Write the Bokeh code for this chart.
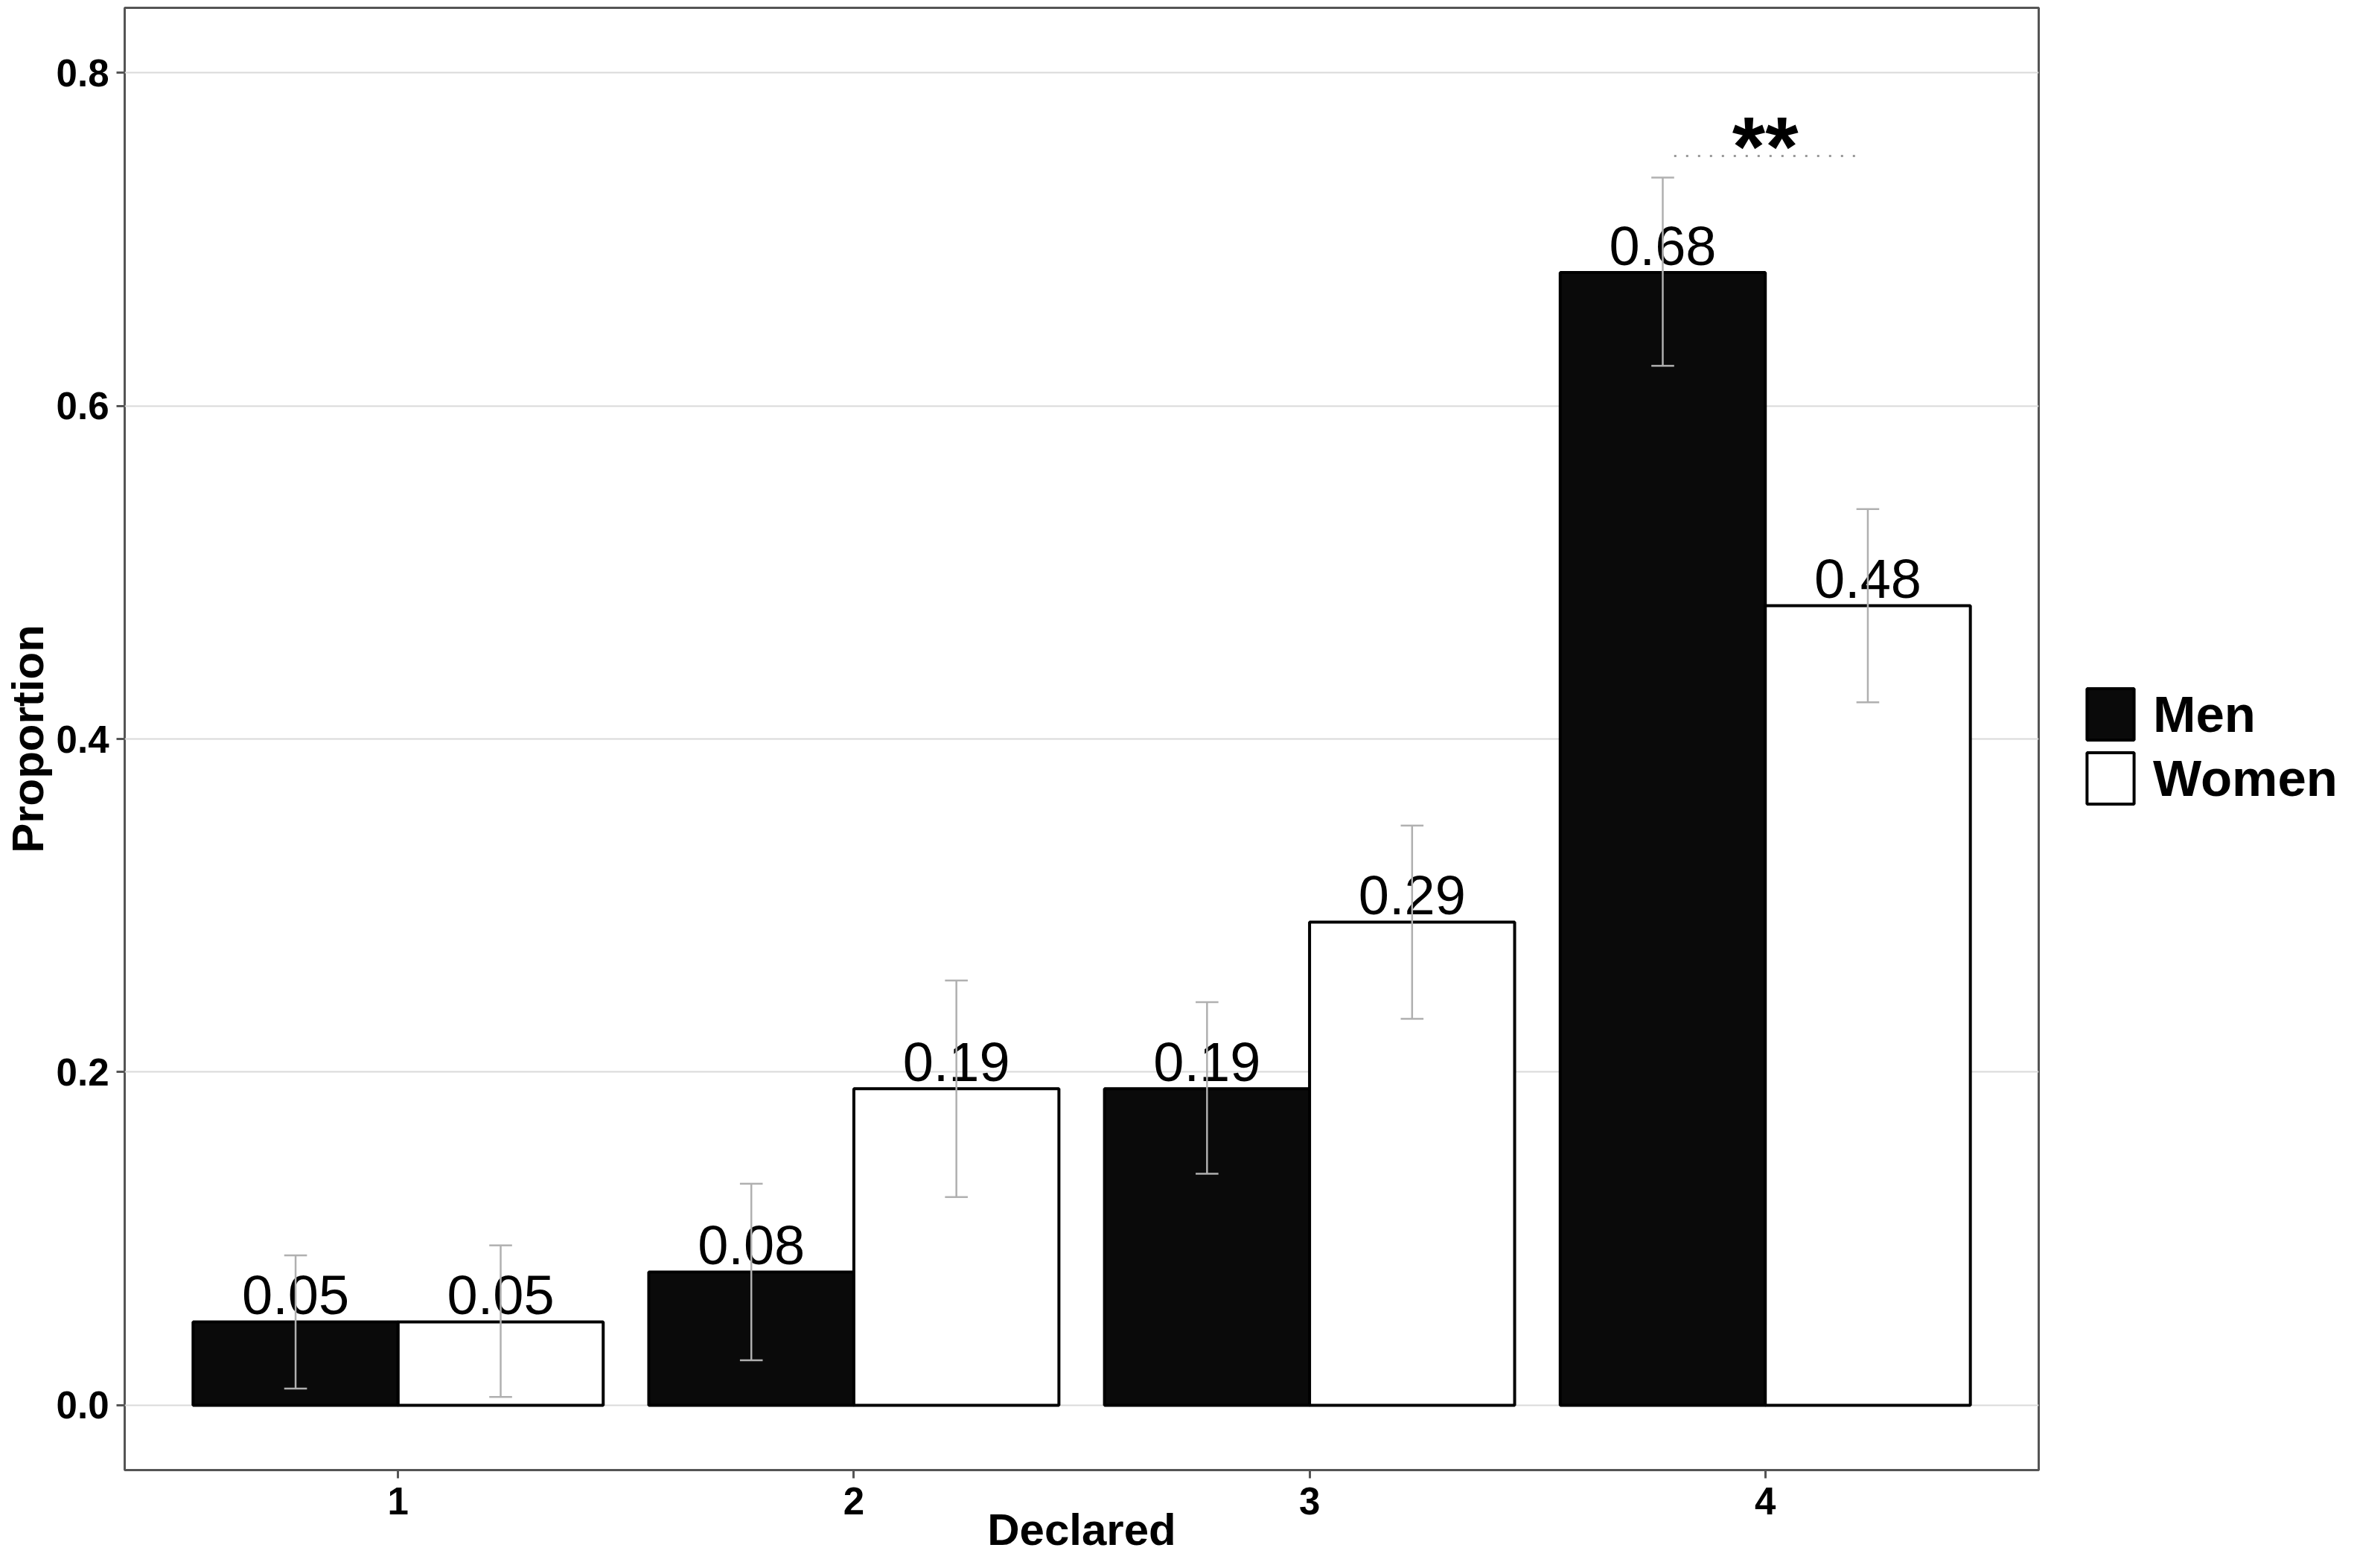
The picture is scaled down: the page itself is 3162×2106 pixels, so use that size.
from bokeh.plotting import figure
from bokeh.layouts import row
from bokeh.models import (FixedTicker, PrintfTickFormatter, Legend, LegendItem,
                          ColumnDataSource, Range1d)
from bokeh.core.properties import value
from bokeh.embed import file_html
from bokeh.resources import INLINE

# ---- data ----
categories = [1, 2, 3, 4]
men = [0.05, 0.08, 0.19, 0.68]
women = [0.05, 0.19, 0.29, 0.48]
men_lower = [0.010, 0.027, 0.139, 0.624]
men_upper = [0.090, 0.133, 0.242, 0.737]
women_lower = [0.005, 0.125, 0.232, 0.422]
women_upper = [0.096, 0.255, 0.348, 0.538]
y_ticks = [0.0, 0.2, 0.4, 0.6, 0.8]
sig_x0, sig_x1, sig_y = 3.8, 4.2, 0.75
sig_label = "**"
series_names = ["Men", "Women"]
x_title = "Declared"
y_title = "Proportion"

FONT = "Liberation Sans"
bar_w = 0.45
cap_w = 0.05
MEN_FILL = "#0a0a0a"
WOMEN_FILL = "white"

H = 2090
W_MAIN = 2741
W_LEG = 3146 - W_MAIN

p = figure(width=W_MAIN, height=H, output_backend="svg", toolbar_location=None,
           tools="", x_range=Range1d(0.4, 4.6), y_range=Range1d(-0.0389, 0.8389),
           min_border_left=167, min_border_right=3, min_border_top=10,
           min_border_bottom=116)
p.background_fill_color = "white"
p.border_fill_color = "white"
p.outline_line_color = "#555555"
p.outline_line_width = 3

p.xgrid.visible = False
p.ygrid.grid_line_color = "#dadada"
p.ygrid.grid_line_width = 2
p.ygrid.ticker = FixedTicker(ticks=y_ticks)

for ax in (p.xaxis[0], p.yaxis[0]):
    ax.axis_line_color = None
    ax.major_tick_line_color = "#555555"
    ax.major_tick_line_width = 3
    ax.major_tick_out = 11
    ax.major_tick_in = 0
    ax.minor_tick_line_color = None
    ax.major_label_text_font = FONT
    ax.major_label_text_font_style = "bold"
    ax.major_label_text_font_size = "51px"
    ax.major_label_text_color = "black"
    ax.axis_label_text_font = FONT
    ax.axis_label_text_font_style = "bold"
    ax.axis_label_text_font_size = "60px"
    ax.axis_label_text_color = "black"

p.xaxis.ticker = FixedTicker(ticks=categories)
p.xaxis.major_label_standoff = 12
p.xaxis.axis_label = x_title
p.xaxis.axis_label_standoff = -16
p.yaxis.ticker = FixedTicker(ticks=y_ticks)
p.yaxis.formatter = PrintfTickFormatter(format="%.1f")
p.yaxis.major_label_standoff = 10
p.yaxis.axis_label = y_title
p.yaxis.axis_label_standoff = 2

men_x = [c - bar_w / 2 for c in categories]
women_x = [c + bar_w / 2 for c in categories]

men_src = ColumnDataSource(dict(x=men_x, top=men, lo=men_lower, hi=men_upper,
                                lab=[f"{v:.2f}" for v in men],
                                cl=[x - cap_w / 2 for x in men_x],
                                cr=[x + cap_w / 2 for x in men_x]))
women_src = ColumnDataSource(dict(x=women_x, top=women, lo=women_lower, hi=women_upper,
                                  lab=[f"{v:.2f}" for v in women],
                                  cl=[x - cap_w / 2 for x in women_x],
                                  cr=[x + cap_w / 2 for x in women_x]))

bar_styles = [dict(fill_color=MEN_FILL, line_color="black", line_width=4),
              dict(fill_color=WOMEN_FILL, line_color="black", line_width=4)]

p.vbar(x="x", top="top", bottom=0, width=bar_w, source=men_src, **bar_styles[0])
p.vbar(x="x", top="top", bottom=0, width=bar_w, source=women_src, **bar_styles[1])

for src in (men_src, women_src):
    p.text(x="x", y="top", text="lab", source=src, text_align="center",
           text_baseline="middle", y_offset=-36, text_font=value(FONT),
           text_font_size="74px", text_color="black")

for src in (men_src, women_src):
    p.segment(x0="x", y0="lo", x1="x", y1="hi", source=src,
              line_color="#b0b0b0", line_width=2.5)
    p.segment(x0="cl", y0="lo", x1="cr", y1="lo", source=src,
              line_color="#b0b0b0", line_width=2.5)
    p.segment(x0="cl", y0="hi", x1="cr", y1="hi", source=src,
              line_color="#b0b0b0", line_width=2.5)

# significance marker
p.segment(x0=[sig_x0], y0=[sig_y], x1=[sig_x1], y1=[sig_y],
          line_color="#999999", line_width=3, line_dash="3 13")
p.text(x=[(sig_x0 + sig_x1) / 2], y=[sig_y], text=[sig_label], text_align="center",
       text_baseline="middle", y_offset=-13, text_font=value(FONT),
       text_font_style="bold", text_font_size="114px", text_color="black")

# ---- legend panel (separate figure to the right of the plot) ----
# legend-only renderers: hidden, and outside the view range anyway
pl = figure(width=W_LEG, height=H, output_backend="svg", toolbar_location=None,
            tools="", x_axis_location=None, y_axis_location=None,
            x_range=Range1d(10, 11), y_range=Range1d(10, 11), min_border=0)
pl.outline_line_color = None
pl.background_fill_color = "white"
pl.border_fill_color = "white"
pl.grid.visible = False
leg_men = pl.vbar(x="x", top="top", bottom=0, width=bar_w, source=men_src,
                  visible=False, **bar_styles[0])
leg_women = pl.vbar(x="x", top="top", bottom=0, width=bar_w, source=women_src,
                    visible=False, **bar_styles[1])
legend = Legend(items=[LegendItem(label=series_names[0], renderers=[leg_men]),
                       LegendItem(label=series_names[1], renderers=[leg_women])],
                location=(54, 886), orientation="vertical",
                glyph_width=79, glyph_height=86, label_height=86, spacing=0,
                padding=0, margin=0, label_standoff=18,
                label_text_font=FONT, label_text_font_style="bold",
                label_text_font_size="69px", label_text_color="black",
                border_line_color=None, background_fill_alpha=0,
                inactive_fill_alpha=0)
pl.add_layout(legend)

layout = row(p, pl, spacing=0)
open("out.html", "w").write(file_html(layout, INLINE))
